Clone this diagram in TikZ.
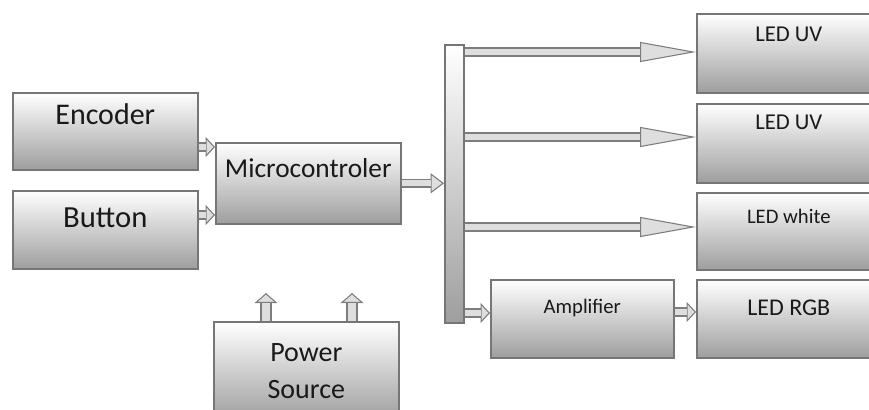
\documentclass[tikz,border=0pt]{standalone}
\usepackage{fontspec}
\setmainfont{Carlito}
\usetikzlibrary{arrows.meta,positioning,calc}
\definecolor{BoxEdge}{RGB}{118,118,118}
\definecolor{BoxShade}{RGB}{158,158,158}
\definecolor{PipeEdge}{RGB}{125,125,125}
\definecolor{PipeFill}{RGB}{222,222,222}

\tikzset{
  block/.style={draw=BoxEdge,line width=1.2pt,top color=white,bottom color=BoxShade,
    anchor=north west,inner sep=0pt,text=black!90},
  pipe/.style={line width=7pt,draw=PipeEdge,
    -{Triangle[length=#1,width=15pt,line width=.8pt,fill=PipeFill]},
    postaction={draw=PipeFill,line width=4.4pt,-,shorten >=#1}},
  riser/.style={line width=9pt,draw=PipeEdge,
    -{Triangle[length=7.5pt,width=17pt,line width=.8pt,fill=PipeFill]},
    postaction={draw=PipeFill,line width=6.4pt,-,shorten >=7.5pt}},
}

\begin{document}
\begin{tikzpicture}[x=.75pt,y=-.75pt]
  \useasboundingbox (0,0) rectangle (869,410);
  \clip (0,0) rectangle (869,410);
  \node[block,minimum width=138.75pt,text height=24pt,text depth=33.75pt,
    font=\fontsize{22.5}{26}\selectfont] (enc) at (12,92) {Encoder};
  \node[block,minimum width=138.75pt,text height=27.75pt,text depth=30.75pt,
    font=\fontsize{23}{26}\selectfont] (btn) at (12,190) {Button};
  \node[block,minimum width=138.75pt,text height=26.25pt,text depth=34.5pt,
    font=\fontsize{20.5}{24}\selectfont] (mcu) at (215,142) {Microcontroler};
  \node[block,minimum width=138.75pt,minimum height=73.5pt,align=center,
    font=\fontsize{21}{27.75}\selectfont] (pwr) at (213,321) {Power\\Source};
  \node[block,minimum width=14.25pt,minimum height=208.5pt] (bus) at (444,44) {};
  \node[block,minimum width=138pt,text height=21pt,text depth=38.25pt,
    font=\fontsize{17}{20}\selectfont] (uv1) at (696,13) {LED UV};
  \node[block,minimum width=138pt,text height=19.5pt,text depth=39.75pt,
    font=\fontsize{17}{20}\selectfont] (uv2) at (696,103) {LED UV};
  \node[block,minimum width=138pt,text height=23pt,text depth=34.75pt,
    font=\fontsize{15.5}{18}\selectfont] (wht) at (696,192) {LED white};
  \node[block,minimum width=137.25pt,text height=25.5pt,text depth=33pt,
    font=\fontsize{15.5}{18}\selectfont] (amp) at (490,279) {Amplifier};
  \node[block,minimum width=138pt,text height=26.5pt,text depth=32pt,
    font=\fontsize{18}{22}\selectfont] (rgb) at (696,279) {LED RGB};

  \draw[pipe=7pt] (enc.east |- 0,147) -- (mcu.west |- 0,147);
  \draw[pipe=7pt] (btn.east |- 0,215) -- (mcu.west |- 0,215);
  \draw[pipe=10pt] (mcu.east) -- (bus.west |- mcu.east);
  \draw[pipe=42pt] (bus.east |- 0,52) -- (uv1.west |- 0,52);
  \draw[pipe=42pt] (bus.east |- 0,137) -- (uv2.west |- 0,137);
  \draw[pipe=42pt] (bus.east |- 0,227) -- (wht.west |- 0,227);
  \draw[pipe=7pt] (bus.east |- 0,313) -- (amp.west |- 0,313);
  \draw[pipe=7pt] (amp.east |- 0,312) -- (rgb.west |- 0,312);

  \coordinate (pin1) at (266,293);
  \coordinate (pin2) at (352,293);
  \draw[riser] (pwr.north -| pin1) -- (pin1);
  \draw[riser] (pwr.north -| pin2) -- (pin2);
\end{tikzpicture}
\end{document}
